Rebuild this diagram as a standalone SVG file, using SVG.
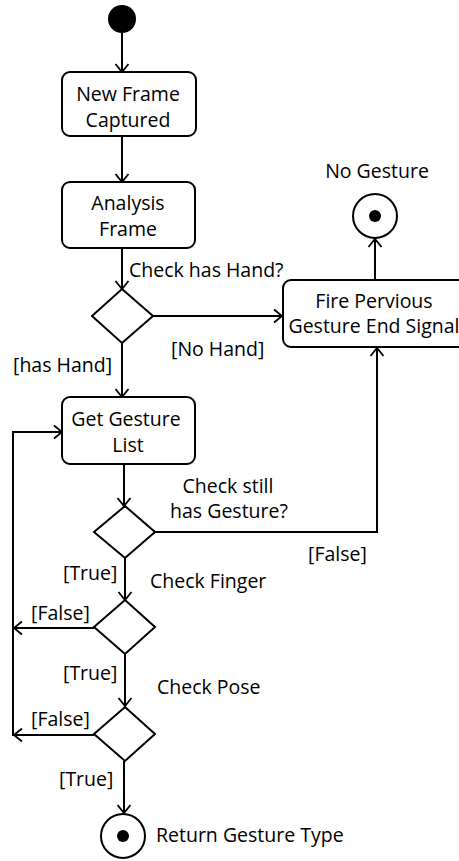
<svg xmlns="http://www.w3.org/2000/svg" width="459" height="861" viewBox="0 0 459 861">
  <style>
    .box { fill: #ffffff; stroke: #000000; stroke-width: 2; }
    .dec { fill: #ffffff; stroke: #000000; stroke-width: 2; }
    .edge { fill: none; stroke: #000000; stroke-width: 2; marker-end: url(#arrow); }
    text { font-family: "Open Sans", "Noto Sans", "DejaVu Sans", sans-serif; font-size: 19.5px; fill: #000000; }
    .c { text-anchor: middle; }
  </style>
  <defs>
    <marker id="arrow" markerUnits="userSpaceOnUse" viewBox="-10 -8 12 16" refX="0" refY="0" markerWidth="12" markerHeight="16" orient="auto">
      <path d="M-8,-6.5 L0,0 L-8,6.5" fill="none" stroke="#000000" stroke-width="1.8"/>
    </marker>
  </defs>

  <!-- connectors and their guard / action labels -->
  <g id="connectors">
    <path class="edge" d="M122,33 V72"/>
    <path class="edge" d="M122,136 V182"/>
    <path class="edge" d="M122,248 V289"/>
    <path class="edge" d="M153,316 H282"/>
    <path class="edge" d="M122,343 V397"/>
    <path class="edge" d="M375,280 V239"/>
    <path class="edge" d="M124,464 V506"/>
    <path class="edge" d="M155,532 H377 V348"/>
    <path class="edge" d="M125,558 V600"/>
    <path class="edge" d="M94,628 H14"/>
    <path class="edge" d="M125,654 V706"/>
    <path class="edge" d="M94,735 H14"/>
    <path class="edge" d="M13,736 V432 H62"/>
    <path class="edge" d="M124,761 V813"/>
    <text x="129" y="277">Check has Hand?</text>
    <text x="171" y="356">[No Hand]</text>
    <text x="13" y="372">[has Hand]</text>
    <text class="c" x="228" y="493">Check still</text>
    <text class="c" x="229" y="518">has Gesture?</text>
    <text x="308" y="561">[False]</text>
    <text x="63" y="580">[True]</text>
    <text x="150" y="588">Check Finger</text>
    <text x="31" y="620">[False]</text>
    <text x="63" y="680">[True]</text>
    <text x="157" y="694">Check Pose</text>
    <text x="31" y="726">[False]</text>
    <text x="59" y="786">[True]</text>
  </g>

  <g id="start">
    <circle cx="122" cy="19" r="14" fill="#000000"/>
  </g>

  <g id="new-frame">
    <rect class="box" x="62" y="72" width="134" height="64" rx="8"/>
    <text class="c" x="128" y="101">New Frame</text>
    <text class="c" x="128" y="127">Captured</text>
  </g>

  <g id="analysis-frame">
    <rect class="box" x="62" y="182" width="133" height="66" rx="8"/>
    <text class="c" x="128" y="210">Analysis</text>
    <text class="c" x="128" y="236">Frame</text>
  </g>

  <g id="check-hand">
    <polygon class="dec" points="122,289 153,316 122,343 92,316"/>
  </g>

  <g id="fire-end-signal">
    <rect class="box" x="283" y="280" width="184" height="67" rx="8"/>
    <text class="c" x="374" y="308">Fire Pervious</text>
    <text class="c" x="374" y="333">Gesture End Signal</text>
  </g>

  <g id="no-gesture">
    <circle cx="375" cy="216" r="22" fill="#ffffff" stroke="#000000" stroke-width="2"/>
    <circle cx="375" cy="216" r="6" fill="#000000"/>
    <text class="c" x="377" y="178">No Gesture</text>
  </g>

  <g id="get-gesture-list">
    <rect class="box" x="62" y="397" width="133" height="67" rx="8"/>
    <text class="c" x="126" y="426">Get Gesture</text>
    <text class="c" x="128" y="452">List</text>
  </g>

  <g id="check-gesture">
    <polygon class="dec" points="125,506 155,532 125,558 94,532"/>
  </g>

  <g id="check-finger">
    <polygon class="dec" points="125,600 155,627 125,654 94,627"/>
  </g>

  <g id="check-pose">
    <polygon class="dec" points="125,707 155,734 125,761 94,734"/>
  </g>

  <g id="return-gesture">
    <circle cx="123" cy="836" r="22" fill="#ffffff" stroke="#000000" stroke-width="2"/>
    <circle cx="123" cy="836" r="6" fill="#000000"/>
    <text x="156" y="842">Return Gesture Type</text>
  </g>
</svg>
